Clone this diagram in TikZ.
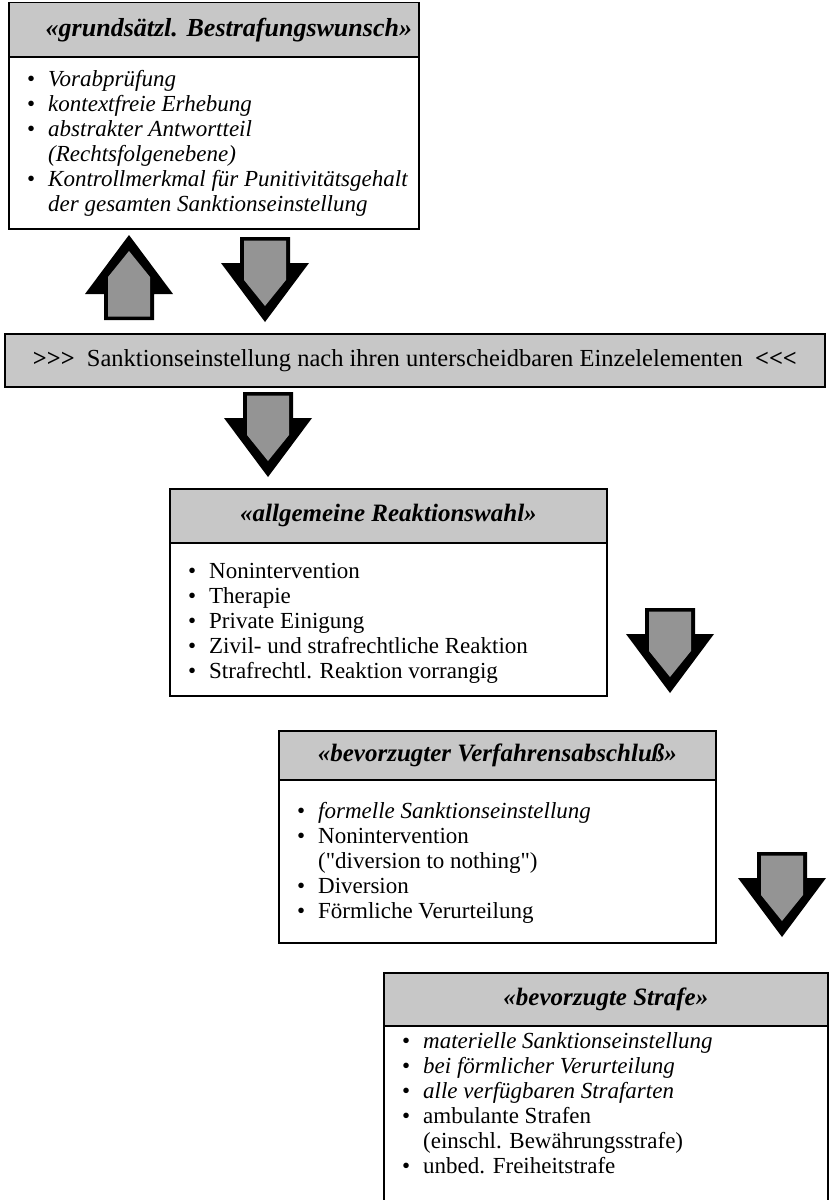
\documentclass[tikz,border=0pt]{standalone}
\usepackage{fontspec}
\setmainfont{Liberation Serif}
\newfontfamily\rawserif{Liberation Serif}
\definecolor{hdrgray}{gray}{0.78}
\definecolor{arrowgray}{gray}{0.58}
\newcommand{\bitem}{\makebox[21pt][l]{\upshape\textbullet}}
\newcommand{\bcont}{\makebox[21pt][l]{}}
\newcommand{\sq}{{\rawserif\symbol{34}}}
\tikzset{
  boxline/.style={draw=black, line width=1.8pt},
  hdrbox/.style={boxline, fill=hdrgray, inner sep=0pt, anchor=north west},
  bodybox/.style={boxline, fill=white, inner sep=0pt, anchor=north west},
  hdrtext/.style={font=\fontsize{25}{28}\selectfont\bfseries\itshape, inner sep=0pt},
  bodytext/.style={font=\fontsize{23}{25}\selectfont, align=left, inner sep=0pt, anchor=base west},
  pics/blockarrow/.style={code={
    \fill[black] (-25,-85) -- (25,-85) -- (25,-59) -- (44,-59) -- (0,0)
                 -- (-44,-59) -- (-25,-59) -- cycle;
    \fill[arrowgray] (-21,-81.5) -- (21,-81.5) -- (21,-42) -- (0,-16)
                 -- (-21,-42) -- cycle;
  }}
}
\begin{document}
\begin{tikzpicture}[x=1pt,y=-1pt]
\useasboundingbox (0,0) rectangle (830,1200);

% Box 1
\node[bodybox, minimum width=410pt, minimum height=172pt] (b1body) at (8,56) {};
\node[hdrbox, minimum width=410pt, minimum height=54.5pt] (b1head) at (8,1.5) {};
\node[hdrtext, font=\fontsize{26}{28}\selectfont\bfseries\itshape] (b1title) at ([xshift=15pt]b1head.center) {«grundsätzl. Bestrafungswunsch»};
% base anchor = baseline of the last line
\node[bodytext, font=\fontsize{23}{25}\selectfont\itshape] (b1text) at (27,211) {%
\bitem Vorabprüfung\\
\bitem kontextfreie Erhebung\\
\bitem abstrakter Antwortteil\\
\bcont (Rechtsfolgenebene)\\
\bitem Kontrollmerkmal für Punitivitätsgehalt\\
\bcont der gesamten Sanktionseinstellung};

% Bar
\node[hdrbox, minimum width=820pt, minimum height=53pt] (bar) at (4,333) {};
\node[font=\fontsize{24.5}{28}\selectfont, inner sep=0pt] (bartext) at (bar.center)
 {\textbf{>\kern0pt>\kern0pt>}\ \ Sanktionseinstellung nach ihren unterscheidbaren Einzelelementen\ \ \textbf{<\kern0pt<\kern0pt<}};

% Box 2
\node[bodybox, minimum width=437pt, minimum height=153pt] (b2body) at (169,542) {};
\node[hdrbox, minimum width=437pt, minimum height=54pt] (b2head) at (169,488) {};
\node[hdrtext] (b2title) at (b2head.center) {«allgemeine Reaktionswahl»};
\node[bodytext] (b2text) at (188,678) {%
\bitem Nonintervention\\
\bitem Therapie\\
\bitem Private Einigung\\
\bitem Zivil- und strafrechtliche Reaktion\\
\bitem Strafrechtl. Reaktion vorrangig};

% Box 3
\node[bodybox, minimum width=437pt, minimum height=163pt] (b3body) at (278,779) {};
\node[hdrbox, minimum width=437pt, minimum height=49pt] (b3head) at (278,730) {};
\node[hdrtext] (b3title) at (b3head.center) {«bevorzugter Verfahrensabschluß»};
\node[bodytext] (b3text) at (297,918) {%
\bitem\textit{formelle Sanktionseinstellung}\\
\bitem Nonintervention\\
\bcont (\sq diversion to nothing\sq)\\
\bitem Diversion\\
\bitem Förmliche Verurteilung};

% Box 4 (continues below the page edge)
\node[bodybox, minimum width=444pt, minimum height=200pt] (b4body) at (383,1025) {};
\node[hdrbox, minimum width=444pt, minimum height=53pt] (b4head) at (383,972) {};
\node[hdrtext] (b4title) at (b4head.center) {«bevorzugte Strafe»};
\node[bodytext] (b4text) at (402,1173) {%
\bitem\textit{materielle Sanktionseinstellung}\\
\bitem\textit{bei förmlicher Verurteilung}\\
\bitem\textit{alle verfügbaren Strafarten}\\
\bitem ambulante Strafen\\
\bcont (einschl. Bewährungsstrafe)\\
\bitem unbed. Freiheitstrafe};

% Block arrows
\coordinate (a1) at (129,235);
\coordinate (a2) at (265,322);
\coordinate (a3) at (268,477);
\coordinate (a4) at (670,693);
\coordinate (a5) at (782,937);
\pic[yscale=-1] at (a1) {blockarrow};
\pic at (a2) {blockarrow};
\pic at (a3) {blockarrow};
\pic at (a4) {blockarrow};
\pic at (a5) {blockarrow};
\end{tikzpicture}
\end{document}
